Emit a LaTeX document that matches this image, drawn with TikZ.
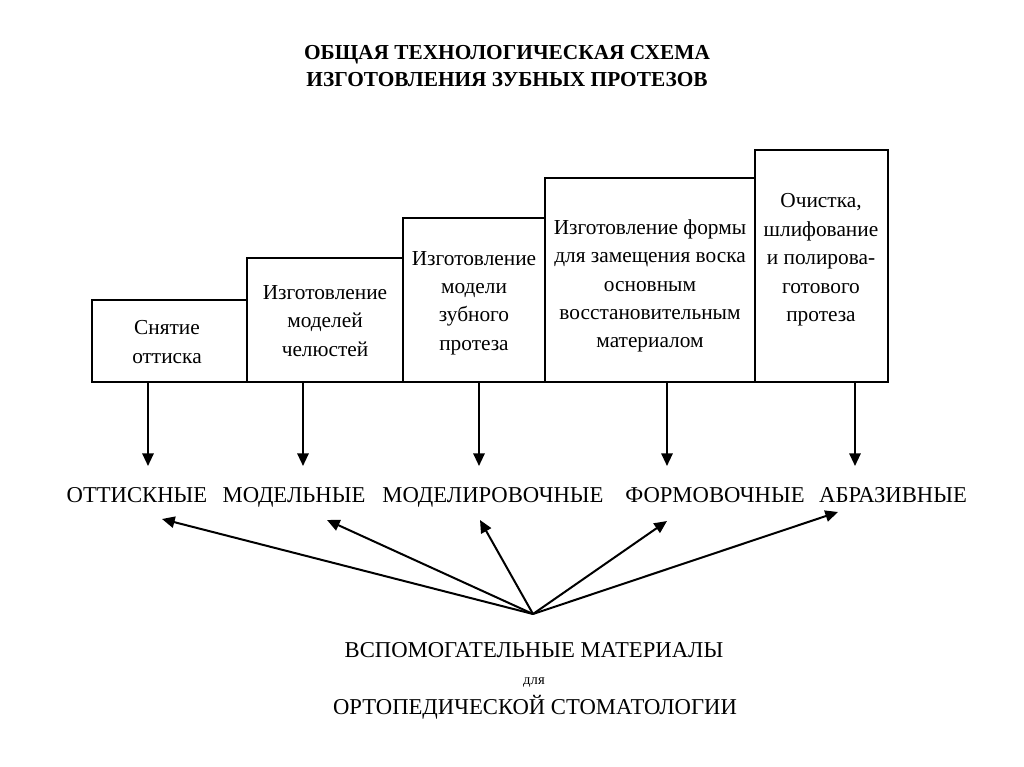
\documentclass[tikz,border=0pt]{standalone}
\usepackage{fontspec}
\setmainfont{Liberation Serif}
\usetikzlibrary{arrows.meta}
\begin{document}
\begin{tikzpicture}[x=0.75pt,y=-0.75pt,
  box/.style={draw, line width=1.1pt, inner sep=0pt, outer sep=0pt},
  btext/.style={align=center, font=\fontsize{16}{21.3}\selectfont, inner sep=0pt},
  cat/.style={font=\fontsize{17}{20}\selectfont, inner sep=0pt, anchor=base},
  ttl/.style={font=\bfseries\fontsize{16}{20}\selectfont, inner sep=0pt, anchor=base},
  low/.style={font=\fontsize{17}{20}\selectfont, inner sep=0pt, anchor=base},
  arr/.style={line width=1.5pt, -{Triangle[length=9.5pt,width=8.5pt]}},
  every node/.style={text=black}]
\useasboundingbox (0,0) rectangle (1024,767);
% title
\node[ttl] (title1) at (507,60) {ОБЩАЯ ТЕХНОЛОГИЧЕСКАЯ СХЕМА};
\node[ttl] (title2) at (507,87) {ИЗГОТОВЛЕНИЯ ЗУБНЫХ ПРОТЕЗОВ};
% boxes
\node[box, minimum width=116.25pt, minimum height=61.5pt] (b1) at (169.5,341) {};
\node[box, minimum width=117pt, minimum height=93pt] (b2) at (325,320) {};
\node[box, minimum width=106.5pt, minimum height=123pt] (b3) at (474,300) {};
\node[box, minimum width=157.5pt, minimum height=153pt] (b4) at (650,280) {};
\node[box, minimum width=99.75pt, minimum height=174pt] (b5) at (821.5,266) {};
\node[btext] (t1) at (167,342) {Снятие\\оттиска};
\node[btext] (t2) at (325,321) {Изготовление\\моделей\\челюстей};
\node[btext] (t3) at (474,303) {Изготовление\\модели\\зубного\\протеза};
\node[btext] (t4) at (650,286) {Изготовление формы\\для замещения воска\\основным\\восстановительным\\материалом};
\node[btext] (t5) at (821,260) {Очистка,\\шлифование\\и полирова-\\готового\\протеза};
% categories
\node[cat] (c1) at (137,502) {ОТТИСКНЫЕ};
\node[cat] (c2) at (294,502) {МОДЕЛЬНЫЕ};
\node[cat] (c3) at (493,502) {МОДЕЛИРОВОЧНЫЕ};
\node[cat] (c4) at (715,502) {ФОРМОВОЧНЫЕ};
\node[cat] (c5) at (893,502) {АБРАЗИВНЫЕ};
% down arrow ends
\coordinate (d1) at (148,466);
\coordinate (d2) at (303,466);
\coordinate (d3) at (479,466);
\coordinate (d4) at (667,466);
\coordinate (d5) at (855,466);
\draw[arr] (b1.south -| d1) -- (d1);
\draw[arr] (b2.south -| d2) -- (d2);
\draw[arr] (b3.south -| d3) -- (d3);
\draw[arr] (b4.south -| d4) -- (d4);
\draw[arr] (b5.south -| d5) -- (d5);
% hub
\coordinate (hub) at (533,614);
\coordinate (u1) at (162,519);
\coordinate (u2) at (327,520);
\coordinate (u3) at (480,520);
\coordinate (u4) at (667,521);
\coordinate (u5) at (838,512);
\foreach \u in {u1,u2,u3,u4,u5} \draw[arr] (hub) -- (\u);
% bottom text
\node[low] (m1) at (534,657) {ВСПОМОГАТЕЛЬНЫЕ МАТЕРИАЛЫ};
\node[font=\fontsize{11}{13}\selectfont, inner sep=0pt, anchor=base] (m2) at (534,684) {для};
\node[low] (m3) at (535,714) {ОРТОПЕДИЧЕСКОЙ СТОМАТОЛОГИИ};
\end{tikzpicture}
\end{document}
